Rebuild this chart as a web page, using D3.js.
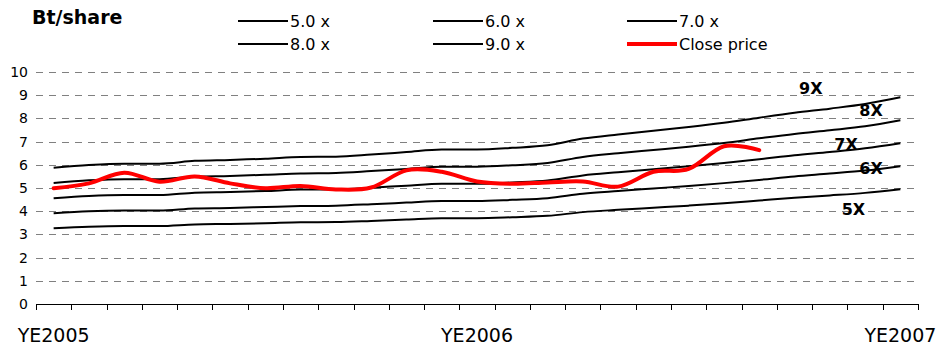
<!DOCTYPE html>
<html>
<head>
<meta charset="utf-8">
<script src="https://cdn.jsdelivr.net/npm/d3@7"></script>
<style>
  html, body { margin: 0; padding: 0; background: #fff; }
  svg { display: block; font-family: "DejaVu Sans", Verdana, sans-serif; }
</style>
</head>
<body>
<svg id="chart" width="951" height="351"></svg>
<script>
// ---- data ----
const categories = ["YE2005","","","","","","","","","","","","YE2006","","","","","","","","","","","","YE2007"];
const yTicks = [0,1,2,3,4,5,6,7,8,9,10];
const pe5 = [3.26,3.33,3.36,3.36,3.43,3.45,3.48,3.52,3.53,3.58,3.64,3.70,3.70,3.74,3.80,3.96,4.06,4.15,4.24,4.34,4.46,4.58,4.68,4.79,4.95];
const pe6 = [3.91,4.00,4.03,4.03,4.12,4.14,4.18,4.22,4.24,4.30,4.37,4.44,4.44,4.49,4.56,4.75,4.87,4.98,5.09,5.21,5.35,5.50,5.62,5.75,5.94];
const pe7 = [4.56,4.66,4.70,4.70,4.80,4.83,4.87,4.93,4.94,5.01,5.10,5.18,5.18,5.24,5.32,5.54,5.68,5.81,5.94,6.08,6.24,6.41,6.55,6.71,6.93];
const pe8 = [5.22,5.33,5.38,5.38,5.49,5.52,5.57,5.63,5.65,5.73,5.82,5.92,5.92,5.98,6.08,6.34,6.50,6.64,6.78,6.94,7.14,7.33,7.49,7.66,7.92];
const pe9 = [5.87,5.99,6.05,6.05,6.17,6.21,6.26,6.34,6.35,6.44,6.55,6.66,6.66,6.73,6.84,7.13,7.31,7.47,7.63,7.81,8.03,8.24,8.42,8.62,8.91];
const closePrice = [4.99,5.20,5.66,5.27,5.50,5.20,4.99,5.09,4.94,5.02,5.76,5.70,5.28,5.18,5.24,5.28,5.06,5.70,5.82,6.80,6.63];
const legendNames = ["5.0 x","6.0 x","7.0 x","8.0 x","9.0 x","Close price"];
const bandLabels = ["9X","8X","7X","6X","5X"];
// label anchor positions expressed in data space (category index, value)
const bandLabelIdx = [21.46, 23.17, 22.46, 23.17, 22.67];
const bandLabelVal = [9.28, 8.36, 6.88, 5.84, 4.07];

(function () {
  const svg = d3.select("#chart");
  const mLeft = 36, mRight = 918, mTop = 72, mBottom = 304;

  const x = d3.scaleBand().domain(d3.range(categories.length)).range([mLeft, mRight]).padding(0);
  const xc = i => x(0) + (i + 0.5) * x.bandwidth();
  const y = d3.scaleLinear().domain([0, 10]).range([mBottom, mTop]);

  // gridlines
  svg.append("g").selectAll("line").data(yTicks.filter(d => d > 0)).join("line")
    .attr("x1", mLeft).attr("x2", mRight)
    .attr("y1", d => Math.round(y(d)) + 0.5).attr("y2", d => Math.round(y(d)) + 0.5)
    .attr("stroke", "#808080").attr("stroke-width", 1)
    .attr("stroke-dasharray", "7,6");

  // y labels
  svg.append("g").selectAll("text").data(yTicks).join("text")
    .attr("x", 28).attr("y", d => y(d))
    .attr("text-anchor", "end").attr("dominant-baseline", "central")
    .attr("font-size", 14).attr("fill", "#000")
    .text(d => d);

  // x axis line + ticks
  svg.append("line").attr("x1", mLeft).attr("x2", mRight)
    .attr("y1", mBottom + 0.5).attr("y2", mBottom + 0.5)
    .attr("stroke", "#000").attr("stroke-width", 1);
  svg.append("g").selectAll("line").data(d3.range(categories.length + 1)).join("line")
    .attr("x1", i => Math.round(mLeft + i * x.bandwidth()) + 0.5)
    .attr("x2", i => Math.round(mLeft + i * x.bandwidth()) + 0.5)
    .attr("y1", mBottom).attr("y2", mBottom + 6)
    .attr("stroke", "#000").attr("stroke-width", 1);

  // x labels
  svg.append("g").selectAll("text").data(categories).join("text")
    .attr("x", (d, i) => xc(i)).attr("y", 342)
    .attr("text-anchor", "middle").attr("font-size", 19).attr("fill", "#000")
    .text(d => d);

  // lines
  const lineBlack = d3.line().x((d, i) => xc(i)).y(d => y(d)).curve(d3.curveMonotoneX);
  const lineRed = d3.line().x((d, i) => xc(i)).y(d => y(d)).curve(d3.curveCardinal.tension(0));
  [pe5, pe6, pe7, pe8, pe9].forEach(s => {
    svg.append("path").datum(s).attr("d", lineBlack)
      .attr("fill", "none").attr("stroke", "#000").attr("stroke-width", 2);
  });
  svg.append("path").datum(closePrice).attr("d", lineRed)
    .attr("fill", "none").attr("stroke", "#ff0000").attr("stroke-width", 4)
    .attr("stroke-linejoin", "round").attr("stroke-linecap", "round");

  // band labels
  svg.append("g").selectAll("text").data(bandLabels).join("text")
    .attr("x", (d, i) => xc(bandLabelIdx[i])).attr("y", (d, i) => y(bandLabelVal[i]))
    .attr("text-anchor", "middle").attr("dominant-baseline", "central")
    .attr("font-size", 16).attr("font-weight", "bold").attr("fill", "#000")
    .text(d => d);

  // title
  svg.append("text").attr("x", 32).attr("y", 24)
    .attr("font-size", 19).attr("font-weight", "bold").attr("fill", "#000")
    .text("Bt/share");

  // legend
  const colX = [238, 433, 627];
  const rowY = [21, 44];
  legendNames.forEach((name, i) => {
    const cx = colX[i % 3], cy = rowY[Math.floor(i / 3)];
    const isRed = name === "Close price";
    svg.append("line").attr("x1", cx).attr("x2", cx + 50)
      .attr("y1", cy).attr("y2", cy)
      .attr("stroke", isRed ? "#ff0000" : "#000").attr("stroke-width", isRed ? 4 : 2);
    svg.append("text").attr("x", cx + 52).attr("y", cy)
      .attr("dominant-baseline", "central").attr("font-size", 16).attr("fill", "#000")
      .text(name);
  });
})();
</script>
</body>
</html>
